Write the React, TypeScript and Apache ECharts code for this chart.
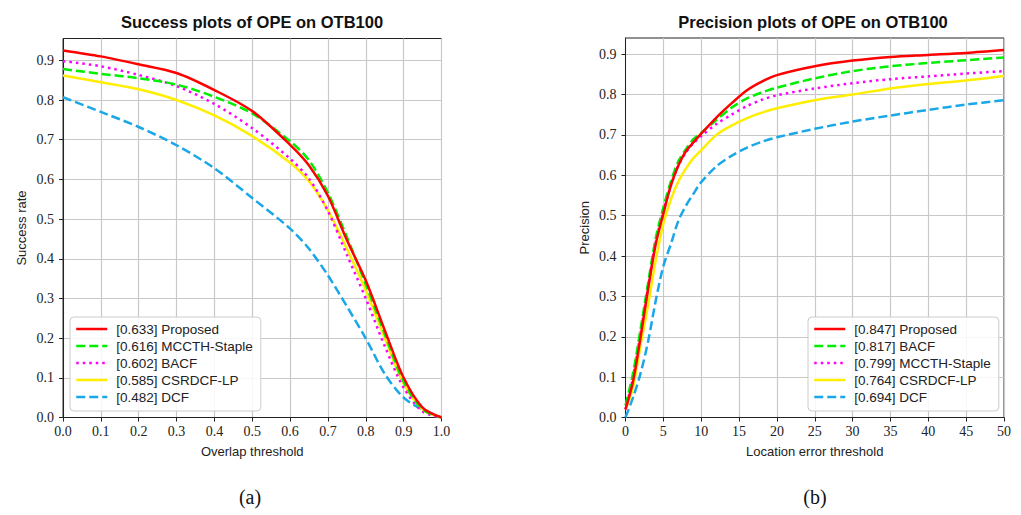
import React, { useEffect, useRef } from "react";
import * as echarts from "echarts";

// ---------- Success plot (left) ----------
const overlapX = [0, 0.1, 0.2, 0.3, 0.4, 0.5, 0.6, 0.65, 0.7, 0.75, 0.8, 0.85, 0.9, 0.95, 1.0];
const succProposed = [0.925, 0.91, 0.89, 0.868, 0.825, 0.772, 0.687, 0.635, 0.558, 0.447, 0.345, 0.22, 0.1, 0.025, 0.0];
const succMCCTH = [0.878, 0.866, 0.855, 0.839, 0.808, 0.766, 0.696, 0.648, 0.566, 0.455, 0.335, 0.21, 0.09, 0.02, 0.0];
const succBACF = [0.898, 0.885, 0.863, 0.835, 0.79, 0.729, 0.652, 0.602, 0.52, 0.41, 0.3, 0.18, 0.075, 0.015, 0.0];
const succCSR = [0.862, 0.845, 0.827, 0.8, 0.761, 0.709, 0.642, 0.595, 0.522, 0.425, 0.32, 0.2, 0.085, 0.02, 0.0];
const succDCF = [0.807, 0.77, 0.732, 0.686, 0.628, 0.553, 0.476, 0.425, 0.358, 0.28, 0.199, 0.11, 0.05, 0.02, 0.0];
const succNames = ["[0.633] Proposed", "[0.616] MCCTH-Staple", "[0.602] BACF", "[0.585] CSRDCF-LP", "[0.482] DCF"];

// ---------- Precision plot (right) ----------
const errX = [0, 1, 2, 3, 4, 5, 6, 7, 8, 9, 10, 12, 14, 16, 18, 20, 25, 30, 35, 40, 45, 50];
const precProposed = [0.02, 0.09, 0.2, 0.32, 0.43, 0.505, 0.575, 0.625, 0.66, 0.682, 0.703, 0.743, 0.778, 0.81, 0.832, 0.848, 0.87, 0.884, 0.893, 0.898, 0.903, 0.91];
const precBACF = [0.03, 0.11, 0.22, 0.335, 0.445, 0.52, 0.585, 0.635, 0.665, 0.69, 0.705, 0.737, 0.767, 0.79, 0.805, 0.817, 0.84, 0.858, 0.87, 0.878, 0.885, 0.892];
const precMCCTH = [0.02, 0.1, 0.21, 0.325, 0.435, 0.51, 0.575, 0.625, 0.657, 0.68, 0.697, 0.727, 0.75, 0.771, 0.787, 0.798, 0.815, 0.828, 0.838, 0.845, 0.852, 0.858];
const precCSR = [0.02, 0.075, 0.18, 0.28, 0.39, 0.48, 0.54, 0.585, 0.617, 0.643, 0.662, 0.7, 0.723, 0.741, 0.755, 0.766, 0.786, 0.8, 0.815, 0.826, 0.835, 0.846];
const precDCF = [0.0, 0.05, 0.11, 0.19, 0.29, 0.375, 0.43, 0.488, 0.525, 0.555, 0.583, 0.622, 0.648, 0.668, 0.683, 0.694, 0.715, 0.733, 0.748, 0.762, 0.775, 0.786];
const precNames = ["[0.847] Proposed", "[0.817] BACF", "[0.799] MCCTH-Staple", "[0.764] CSRDCF-LP", "[0.694] DCF"];

const yTicks = [0, 0.1, 0.2, 0.3, 0.4, 0.5, 0.6, 0.7, 0.8, 0.9];

const RED = "#ff0000";
const GREEN = "#00ee00";
const MAGENTA = "#ff00ff";
const YELLOW = "#ffee00";
const BLUE = "#1aa7e8";

const SERIF = "Liberation Serif";
const SANS = "Liberation Sans";

type Style = { color: string; type: any };
const solid = (c: string): Style => ({ color: c, type: "solid" });
const dashed = (c: string): Style => ({ color: c, type: [9, 4] });
const dotted = (c: string): Style => ({ color: c, type: [2.5, 4] });

function mkSeries(name: string, xs: number[], ys: number[], st: Style, idx: number) {
  return {
    type: "line",
    name,
    xAxisIndex: idx,
    yAxisIndex: idx,
    data: xs.map((x, i) => [x, ys[i]]),
    symbol: "none",
    smooth: 0.3,
    lineStyle: { width: 2.5, color: st.color, type: st.type, cap: "butt" },
    itemStyle: { color: st.color },
  };
}

function xAxisOpt(idx: number, min: number, max: number, interval: number, name: string, fmt: (v: number) => string) {
  return {
    type: "value",
    gridIndex: idx,
    min,
    max,
    interval,
    name,
    nameLocation: "middle",
    nameGap: 27,
    nameTextStyle: { fontFamily: SANS, fontSize: 13, color: "#222" },
    axisLine: { show: true, onZero: false, lineStyle: { color: "#222", width: 1 } },
    axisTick: { show: true, length: 4, lineStyle: { color: "#222" } },
    axisLabel: { fontFamily: SERIF, fontSize: 14, color: "#222", margin: 7, formatter: fmt },
    splitLine: { show: true, lineStyle: { color: "#c8c8c8", width: 1.2 } },
  };
}

function yAxisOpt(idx: number, max: number, name: string) {
  return {
    type: "value",
    gridIndex: idx,
    min: 0,
    max,
    interval: 0.1,
    name,
    nameLocation: "middle",
    nameGap: 35,
    nameTextStyle: { fontFamily: SANS, fontSize: 13, color: "#222" },
    axisLine: { show: true, onZero: false, lineStyle: { color: "#222", width: 1 } },
    axisTick: { show: true, length: 4, lineStyle: { color: "#222" }, customValues: yTicks },
    axisLabel: {
      fontFamily: SERIF,
      fontSize: 14,
      color: "#222",
      margin: 9,
      customValues: yTicks,
      formatter: (v: number) => (v > 0.91 ? "" : v.toFixed(1)),
    },
    splitLine: { show: true, lineStyle: { color: "#c8c8c8", width: 1.2 } },
  };
}

function legendOpt(left: number, names: string[]) {
  return {
    orient: "vertical",
    left,
    top: 317,
    data: names,
    itemWidth: 31,
    itemHeight: 12,
    itemGap: 3,
    padding: [5, 8, 7, 5],
    backgroundColor: "rgba(255,255,255,0.85)",
    borderColor: "#cccccc",
    borderWidth: 1,
    borderRadius: 4,
    itemStyle: { opacity: 0, color: "rgba(0,0,0,0)", borderWidth: 0 },
    lineStyle: { width: 2.5 },
    textStyle: { fontFamily: SANS, fontSize: 13.5, lineHeight: 14, color: "#222", padding: [0, 0, 0, 4] },
    selectedMode: false,
  };
}

export default function App() {
  const ref = useRef<HTMLDivElement>(null);
  useEffect(() => {
    if (!ref.current) return;
    const chart = echarts.init(ref.current, null, { renderer: "svg" });
    const option: any = {
      animation: false,
      backgroundColor: "#ffffff",
      grid: [
        { left: 63, right: 1021 - 441.5, top: 38.5, bottom: 515 - 417.5, show: true, borderColor: "#222", borderWidth: 1, containLabel: false },
        { left: 625.5, right: 1021 - 1004, top: 38, bottom: 515 - 417.5, show: true, borderColor: "#222", borderWidth: 1, containLabel: false },
      ],
      xAxis: [
        xAxisOpt(0, 0, 1, 0.1, "Overlap threshold", (v: number) => v.toFixed(1)),
        xAxisOpt(1, 0, 50, 5, "Location error threshold", (v: number) => String(Math.round(v))),
      ],
      yAxis: [yAxisOpt(0, 0.955, "Success rate"), yAxisOpt(1, 0.94, "Precision")],
      legend: [legendOpt(70, succNames), legendOpt(808, precNames)],
      graphic: [
        { type: "text", x: 252, y: 22, style: { text: "Success plots of OPE on OTB100", align: "center", verticalAlign: "middle", font: `bold 16.5px "${SANS}"`, fill: "#111" } },
        { type: "text", x: 813, y: 22, style: { text: "Precision plots of OPE on OTB100", align: "center", verticalAlign: "middle", font: `bold 16.5px "${SANS}"`, fill: "#111" } },
        { type: "text", x: 250, y: 497, style: { text: "(a)", align: "center", verticalAlign: "middle", font: `20px "${SERIF}"`, fill: "#111" } },
        { type: "text", x: 815, y: 497, style: { text: "(b)", align: "center", verticalAlign: "middle", font: `20px "${SERIF}"`, fill: "#111" } },
      ],
      series: [
        mkSeries(succNames[4], overlapX, succDCF, dashed(BLUE), 0),
        mkSeries(succNames[3], overlapX, succCSR, solid(YELLOW), 0),
        mkSeries(succNames[2], overlapX, succBACF, dotted(MAGENTA), 0),
        mkSeries(succNames[1], overlapX, succMCCTH, dashed(GREEN), 0),
        mkSeries(succNames[0], overlapX, succProposed, solid(RED), 0),
        mkSeries(precNames[4], errX, precDCF, dashed(BLUE), 1),
        mkSeries(precNames[3], errX, precCSR, solid(YELLOW), 1),
        mkSeries(precNames[2], errX, precMCCTH, dotted(MAGENTA), 1),
        mkSeries(precNames[1], errX, precBACF, dashed(GREEN), 1),
        mkSeries(precNames[0], errX, precProposed, solid(RED), 1),
      ],
    };
    chart.setOption(option);
    return () => chart.dispose();
  }, []);
  return (
    <div
      ref={ref}
      style={{ position: "fixed", left: 0, top: 0, width: 1021, height: 515, background: "#fff" }}
    />
  );
}
